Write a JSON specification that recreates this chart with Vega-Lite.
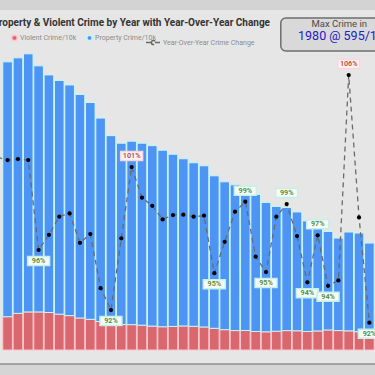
{
  "$schema": "https://vega.github.io/schema/vega-lite/v6.json",
  "width": 375,
  "height": 300,
  "autosize": {"type": "none"},
  "padding": {"left": 0, "top": 50, "right": 0, "bottom": 25},
  "background": "#e6e6e6",
  "config": {"view": {"stroke": null}, "font": "Roboto"},
  "title": {
    "text": "Property & Violent Crime by Year with Year-Over-Year Change",
    "anchor": "end",
    "frame": "group",
    "dx": -105,
    "dy": 28,
    "offset": 0,
    "fontSize": 10,
    "fontWeight": "bold",
    "color": "#333333",
    "font": "Roboto"
  },
  "datasets": {
    "crime": [
      {"year": 1989, "series": "Violent Crime/10k", "value": 66.3}, {"year": 1989, "series": "Property Crime/10k", "value": 507.7},
      {"year": 1990, "series": "Violent Crime/10k", "value": 73.0}, {"year": 1990, "series": "Property Crime/10k", "value": 509.0},
      {"year": 1991, "series": "Violent Crime/10k", "value": 75.8}, {"year": 1991, "series": "Property Crime/10k", "value": 514.2},
      {"year": 1992, "series": "Violent Crime/10k", "value": 75.8}, {"year": 1992, "series": "Property Crime/10k", "value": 490.2},
      {"year": 1993, "series": "Violent Crime/10k", "value": 74.7}, {"year": 1993, "series": "Property Crime/10k", "value": 473.3},
      {"year": 1994, "series": "Violent Crime/10k", "value": 71.4}, {"year": 1994, "series": "Property Crime/10k", "value": 465.6},
      {"year": 1995, "series": "Violent Crime/10k", "value": 68.5}, {"year": 1995, "series": "Property Crime/10k", "value": 459.5},
      {"year": 1996, "series": "Violent Crime/10k", "value": 63.7}, {"year": 1996, "series": "Property Crime/10k", "value": 445.3},
      {"year": 1997, "series": "Violent Crime/10k", "value": 61.1}, {"year": 1997, "series": "Property Crime/10k", "value": 431.9},
      {"year": 1998, "series": "Violent Crime/10k", "value": 56.8}, {"year": 1998, "series": "Property Crime/10k", "value": 405.2},
      {"year": 1999, "series": "Violent Crime/10k", "value": 52.3}, {"year": 1999, "series": "Property Crime/10k", "value": 374.7},
      {"year": 2000, "series": "Violent Crime/10k", "value": 50.7}, {"year": 2000, "series": "Property Crime/10k", "value": 361.3},
      {"year": 2001, "series": "Violent Crime/10k", "value": 50.5}, {"year": 2001, "series": "Property Crime/10k", "value": 365.5},
      {"year": 2002, "series": "Violent Crime/10k", "value": 49.4}, {"year": 2002, "series": "Property Crime/10k", "value": 362.6},
      {"year": 2003, "series": "Violent Crime/10k", "value": 47.6}, {"year": 2003, "series": "Property Crime/10k", "value": 359.4},
      {"year": 2004, "series": "Violent Crime/10k", "value": 46.3}, {"year": 2004, "series": "Property Crime/10k", "value": 351.7},
      {"year": 2005, "series": "Violent Crime/10k", "value": 46.9}, {"year": 2005, "series": "Property Crime/10k", "value": 343.1},
      {"year": 2006, "series": "Violent Crime/10k", "value": 47.9}, {"year": 2006, "series": "Property Crime/10k", "value": 333.1},
      {"year": 2007, "series": "Violent Crime/10k", "value": 47.2}, {"year": 2007, "series": "Property Crime/10k", "value": 325.8},
      {"year": 2008, "series": "Violent Crime/10k", "value": 45.9}, {"year": 2008, "series": "Property Crime/10k", "value": 321.1},
      {"year": 2009, "series": "Violent Crime/10k", "value": 43.2}, {"year": 2009, "series": "Property Crime/10k", "value": 303.8},
      {"year": 2010, "series": "Violent Crime/10k", "value": 40.5}, {"year": 2010, "series": "Property Crime/10k", "value": 294.5},
      {"year": 2011, "series": "Violent Crime/10k", "value": 38.7}, {"year": 2011, "series": "Property Crime/10k", "value": 290.3},
      {"year": 2012, "series": "Violent Crime/10k", "value": 38.8}, {"year": 2012, "series": "Property Crime/10k", "value": 287.2},
      {"year": 2013, "series": "Violent Crime/10k", "value": 36.8}, {"year": 2013, "series": "Property Crime/10k", "value": 273.2},
      {"year": 2014, "series": "Violent Crime/10k", "value": 36.2}, {"year": 2014, "series": "Property Crime/10k", "value": 257.8},
      {"year": 2015, "series": "Violent Crime/10k", "value": 37.4}, {"year": 2015, "series": "Property Crime/10k", "value": 248.6},
      {"year": 2016, "series": "Violent Crime/10k", "value": 38.6}, {"year": 2016, "series": "Property Crime/10k", "value": 245.4},
      {"year": 2017, "series": "Violent Crime/10k", "value": 38.3}, {"year": 2017, "series": "Property Crime/10k", "value": 236.7},
      {"year": 2018, "series": "Violent Crime/10k", "value": 36.9}, {"year": 2018, "series": "Property Crime/10k", "value": 220.1},
      {"year": 2019, "series": "Violent Crime/10k", "value": 37.9}, {"year": 2019, "series": "Property Crime/10k", "value": 210.1},
      {"year": 2020, "series": "Violent Crime/10k", "value": 39.9}, {"year": 2020, "series": "Property Crime/10k", "value": 196.1},
      {"year": 2021, "series": "Violent Crime/10k", "value": 38.7}, {"year": 2021, "series": "Property Crime/10k", "value": 184.3},
      {"year": 2022, "series": "Violent Crime/10k", "value": 38.1}, {"year": 2022, "series": "Property Crime/10k", "value": 196.9},
      {"year": 2023, "series": "Violent Crime/10k", "value": 36.4}, {"year": 2023, "series": "Property Crime/10k", "value": 196.6},
      {"year": 2024, "series": "Violent Crime/10k", "value": 35.9}, {"year": 2024, "series": "Property Crime/10k", "value": 177.1}
    ],
    "yoy": [
      {"year": 1988, "yoy": 1.015, "mark": ""},
      {"year": 1989, "yoy": 1.0133, "mark": ""},
      {"year": 1990, "yoy": 1.0139, "mark": ""},
      {"year": 1991, "yoy": 1.0133, "mark": ""},
      {"year": 1992, "yoy": 0.9595, "mark": "trough"},
      {"year": 1993, "yoy": 0.9686, "mark": ""},
      {"year": 1994, "yoy": 0.9794, "mark": ""},
      {"year": 1995, "yoy": 0.9814, "mark": ""},
      {"year": 1996, "yoy": 0.9638, "mark": ""},
      {"year": 1997, "yoy": 0.969, "mark": ""},
      {"year": 1998, "yoy": 0.9367, "mark": ""},
      {"year": 1999, "yoy": 0.9236, "mark": "trough"},
      {"year": 2000, "yoy": 0.9665, "mark": ""},
      {"year": 2001, "yoy": 1.0091, "mark": "peak"},
      {"year": 2002, "yoy": 0.9908, "mark": ""},
      {"year": 2003, "yoy": 0.9859, "mark": ""},
      {"year": 2004, "yoy": 0.9778, "mark": ""},
      {"year": 2005, "yoy": 0.9804, "mark": ""},
      {"year": 2006, "yoy": 0.9806, "mark": ""},
      {"year": 2007, "yoy": 0.9794, "mark": ""},
      {"year": 2008, "yoy": 0.98, "mark": ""},
      {"year": 2009, "yoy": 0.9456, "mark": "trough"},
      {"year": 2010, "yoy": 0.9644, "mark": ""},
      {"year": 2011, "yoy": 0.9824, "mark": ""},
      {"year": 2012, "yoy": 0.9884, "mark": "peak"},
      {"year": 2013, "yoy": 0.9555, "mark": ""},
      {"year": 2014, "yoy": 0.9463, "mark": "trough"},
      {"year": 2015, "yoy": 0.9794, "mark": ""},
      {"year": 2016, "yoy": 0.987, "mark": "peak"},
      {"year": 2017, "yoy": 0.9678, "mark": ""},
      {"year": 2018, "yoy": 0.9402, "mark": "trough"},
      {"year": 2019, "yoy": 0.9683, "mark": "peak"},
      {"year": 2020, "yoy": 0.9381, "mark": "trough"},
      {"year": 2021, "yoy": 0.9413, "mark": ""},
      {"year": 2022, "yoy": 1.0641, "mark": "peak"},
      {"year": 2023, "yoy": 0.979, "mark": ""},
      {"year": 2024, "yoy": 0.916, "mark": "trough"}
    ],
    "card": [{"heading": "Max Crime in", "value": "1980 @ 595/10k"}]
  },
  "layer": [
    {
      "layer": [
        {
          "data": {"name": "card"},
          "mark": {"type": "rect", "color": "#d3d3d3"},
          "encoding": {
            "x": {"datum": 1980, "type": "quantitative", "scale": {"domain": [1988.75, 2024.06], "nice": false, "zero": false}, "axis": null},
            "x2": {"datum": 2030},
            "y": {"datum": 697, "type": "quantitative", "scale": {"domain": [0, 597.6], "nice": false, "zero": true}, "axis": null},
            "y2": {"datum": 677.5}
          }
        },
        {
          "data": {"name": "card"},
          "mark": {"type": "rect", "color": "#d5d5d5"},
          "encoding": {
            "x": {"datum": 1980, "type": "quantitative", "scale": {"domain": [1988.75, 2024.06], "nice": false, "zero": false}, "axis": null},
            "x2": {"datum": 2030},
            "y": {"datum": -27.9, "type": "quantitative", "scale": {"domain": [0, 597.6], "nice": false, "zero": true}, "axis": null},
            "y2": {"datum": -55}
          }
        },
        {
          "data": {"name": "card"},
          "mark": {"type": "rule", "color": "#8c8c8c", "strokeWidth": 1.5},
          "encoding": {
            "x": {"datum": 1980, "type": "quantitative", "scale": {"domain": [1988.75, 2024.06], "nice": false, "zero": false}, "axis": null},
            "x2": {"datum": 2030},
            "y": {"datum": -27.9, "type": "quantitative", "scale": {"domain": [0, 597.6], "nice": false, "zero": true}, "axis": null}
          }
        },
        {
          "data": {"name": "crime"},
          "mark": {"type": "bar", "width": 9.6, "strokeWidth": 1},
          "encoding": {
            "x": {
              "field": "year", "type": "quantitative",
              "scale": {"domain": [1988.75, 2024.06], "nice": false, "zero": false},
              "axis": {"values": [1990, 2000, 2010, 2020], "format": "d", "title": null, "ticks": false, "tickSize": 0, "domain": false, "grid": false, "labelPadding": 1.5, "labelFontSize": 7, "labelColor": "#9a9a9a", "labelFont": "Roboto"}
            },
            "y": {"field": "value", "type": "quantitative", "stack": "zero", "scale": {"domain": [0, 597.6], "nice": false, "zero": true}, "axis": null},
            "color": {
              "field": "series", "type": "nominal",
              "scale": {"domain": ["Violent Crime/10k", "Property Crime/10k"], "range": ["#d9676e", "#4d94f5"]},
              "legend": {
                "orient": "none", "legendX": 11, "legendY": -16, "direction": "horizontal", "title": null,
                "symbolType": "circle", "symbolSize": 30, "labelFontSize": 7, "labelColor": "#8c8c8c", "labelFont": "Roboto",
                "labelOffset": 2, "columnPadding": 6,
                "encode": {"symbols": {"update": {"fill": {"signal": "datum.value === 'Violent Crime/10k' ? '#b06460' : '#5a82f2'"}, "stroke": {"value": "transparent"}}}}
              }
            },
            "stroke": {
              "field": "series", "type": "nominal",
              "scale": {"domain": ["Violent Crime/10k", "Property Crime/10k"], "range": ["#ffc4cc", "#c6f8f4"]},
              "legend": null
            },
            "order": {"field": "series", "sort": "descending"}
          }
        },
        {
          "data": {"name": "card"},
          "mark": {"type": "rect", "color": "#d9d9d9", "stroke": "#6e6e6e", "strokeWidth": 1.5, "cornerRadius": 5},
          "encoding": {
            "x": {"datum": 2015.43, "type": "quantitative", "scale": {"domain": [1988.75, 2024.06], "nice": false, "zero": false}, "axis": null},
            "x2": {"datum": 2026.3},
            "y": {"datum": 661.4, "type": "quantitative", "scale": {"domain": [0, 597.6], "nice": false, "zero": true}, "axis": null},
            "y2": {"datum": 595.6}
          }
        },
        {
          "data": {"name": "card"},
          "mark": {"type": "text", "color": "#4a4a4a", "fontSize": 9.5, "baseline": "middle", "align": "left", "font": "Roboto"},
          "encoding": {
            "x": {"datum": 2018.4, "type": "quantitative", "scale": {"domain": [1988.75, 2024.06], "nice": false, "zero": false}, "axis": null},
            "y": {"datum": 650, "type": "quantitative", "scale": {"domain": [0, 597.6], "nice": false, "zero": true}, "axis": null},
            "text": {"field": "heading"}
          }
        },
        {
          "data": {"name": "card"},
          "mark": {"type": "text", "color": "#2020c8", "fontSize": 12.5, "baseline": "middle", "align": "left", "font": "Roboto"},
          "encoding": {
            "x": {"datum": 2017.1, "type": "quantitative", "scale": {"domain": [1988.75, 2024.06], "nice": false, "zero": false}, "axis": null},
            "y": {"datum": 624.5, "type": "quantitative", "scale": {"domain": [0, 597.6], "nice": false, "zero": true}, "axis": null},
            "text": {"field": "value"}
          }
        }
      ]
    },
    {
      "data": {"name": "yoy"},
      "layer": [
        {
          "mark": {"type": "line", "color": "#6a6a6a", "strokeWidth": 1.3},
          "encoding": {
            "x": {"field": "year", "type": "quantitative", "scale": {"domain": [1988.75, 2024.06], "nice": false, "zero": false}, "axis": null},
            "y": {"field": "yoy", "type": "quantitative", "scale": {"domain": [0.8997, 1.0791], "nice": false, "zero": false}, "axis": null},
            "strokeDash": {
              "datum": "Year-Over-Year Crime Change", "type": "nominal",
              "scale": {"range": [[5, 4]]},
              "legend": {
                "orient": "none", "legendX": 145, "legendY": -16, "title": null,
                "symbolType": "M-1,0L1,0M-0.28,0A0.28,0.28,0,1,1,0.28,0A0.28,0.28,0,1,1,-0.28,0Z",
                "symbolSize": 225, "labelFontSize": 7, "labelColor": "#8c8c8c", "labelFont": "Roboto", "labelOffset": 1,
                "encode": {"symbols": {"update": {"fill": {"value": "#000000"}, "stroke": {"value": "#000000"}, "strokeWidth": {"value": 1}, "strokeDash": {"value": [1, 0]}, "opacity": {"value": 1}}}}
              }
            }
          }
        },
        {
          "mark": {"type": "point", "filled": true, "color": "#000000", "size": 18, "opacity": 1},
          "encoding": {
            "x": {"field": "year", "type": "quantitative", "scale": {"domain": [1988.75, 2024.06], "nice": false, "zero": false}, "axis": null},
            "y": {"field": "yoy", "type": "quantitative", "scale": {"domain": [0.8997, 1.0791], "nice": false, "zero": false}, "axis": null}
          }
        },
        {
          "transform": [{"filter": "datum.mark === 'peak'"}],
          "mark": {"type": "point", "shape": "M-1,-0.41L1,-0.41L1,0.41L-1,0.41Z", "size": 484, "filled": true, "opacity": 1, "strokeWidth": 1.5, "yOffset": -11},
          "encoding": {
            "x": {"field": "year", "type": "quantitative", "scale": {"domain": [1988.75, 2024.06], "nice": false, "zero": false}, "axis": null},
            "y": {"field": "yoy", "type": "quantitative", "scale": {"domain": [0.8997, 1.0791], "nice": false, "zero": false}, "axis": null},
            "fill": {"condition": {"test": "datum.yoy > 1", "value": "#fff3f5"}, "value": "#f5fbf7"},
            "stroke": {"condition": {"test": "datum.yoy > 1", "value": "#ffd3de"}, "value": "#c4f0e8"}
          }
        },
        {
          "transform": [{"filter": "datum.mark === 'trough'"}],
          "mark": {"type": "point", "shape": "M-1,-0.41L1,-0.41L1,0.41L-1,0.41Z", "size": 484, "filled": true, "opacity": 1, "strokeWidth": 1.5, "yOffset": 11},
          "encoding": {
            "x": {"field": "year", "type": "quantitative", "scale": {"domain": [1988.75, 2024.06], "nice": false, "zero": false}, "axis": null},
            "y": {"field": "yoy", "type": "quantitative", "scale": {"domain": [0.8997, 1.0791], "nice": false, "zero": false}, "axis": null},
            "fill": {"value": "#f5fbf7"},
            "stroke": {"value": "#c4f0e8"}
          }
        },
        {
          "transform": [{"filter": "datum.mark === 'peak'"}],
          "mark": {"type": "text", "fontSize": 7.2, "fontWeight": 600, "baseline": "middle", "align": "center", "yOffset": -11, "font": "Roboto"},
          "encoding": {
            "x": {"field": "year", "type": "quantitative", "scale": {"domain": [1988.75, 2024.06], "nice": false, "zero": false}, "axis": null},
            "y": {"field": "yoy", "type": "quantitative", "scale": {"domain": [0.8997, 1.0791], "nice": false, "zero": false}, "axis": null},
            "text": {"field": "yoy", "format": ".0%"},
            "color": {"condition": {"test": "datum.yoy > 1", "value": "#a8503c"}, "value": "#4f8a35"}
          }
        },
        {
          "transform": [{"filter": "datum.mark === 'trough'"}],
          "mark": {"type": "text", "fontSize": 7.2, "fontWeight": 600, "baseline": "middle", "align": "center", "yOffset": 11, "font": "Roboto", "color": "#4f8a35"},
          "encoding": {
            "x": {"field": "year", "type": "quantitative", "scale": {"domain": [1988.75, 2024.06], "nice": false, "zero": false}, "axis": null},
            "y": {"field": "yoy", "type": "quantitative", "scale": {"domain": [0.8997, 1.0791], "nice": false, "zero": false}, "axis": null},
            "text": {"field": "yoy", "format": ".0%"}
          }
        }
      ]
    }
  ],
  "resolve": {"scale": {"y": "independent"}}
}
